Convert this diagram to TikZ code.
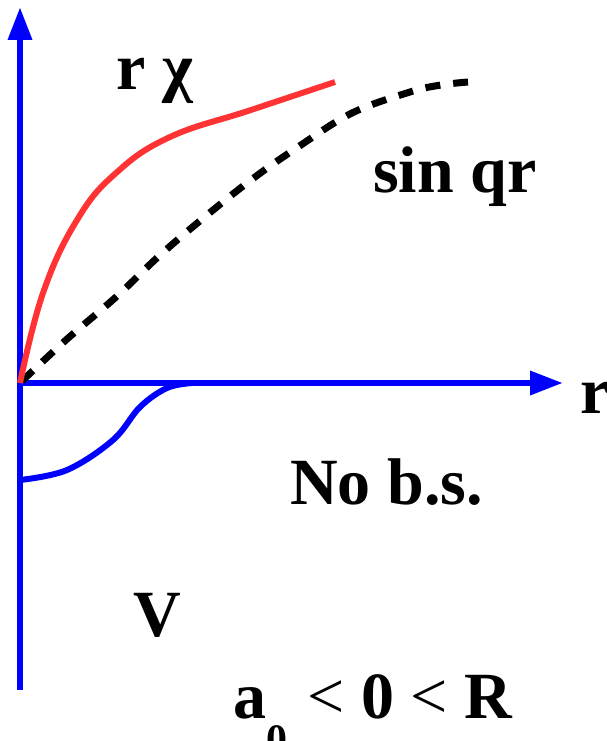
\documentclass[tikz,border=0pt]{standalone}
\usepackage{fontspec}
\setmainfont{Liberation Serif}
\usepackage{tikz}
\usetikzlibrary{arrows.meta}

\begin{document}
\begin{tikzpicture}[
  x=1pt, y=-1pt,
  every node/.style={font=\fontsize{66}{70}\selectfont\bfseries, inner sep=0pt},
  axis/.style={draw=blue, line width=6.5pt},
  axisarrow/.style={axis, -{Triangle[length=33pt, width=23pt]}},
  wave/.style={draw={rgb,255:red,255;green,51;blue,51}, line width=6pt},
  freewave/.style={draw=black, line width=7pt, dash pattern=on 15pt off 13pt},
  potential/.style={draw=blue, line width=6pt},
  lbl/.style={anchor=base west},
]
\useasboundingbox (0,0) rectangle (606,741);

% Axes
\coordinate (O) at (20,383);
\coordinate (ytop) at (20,7);
\coordinate (ybot) at (20,690);
\coordinate (xend) at (563,383);
\draw[axisarrow] (ybot) -- (ytop);
\draw[axisarrow] (O) -- (xend);

% Free solution sin qr
\draw[freewave] plot[smooth, tension=0.6] coordinates {
  (22,381) (66,340) (116,297) (158,257) (201,220) (251,180)
  (298,147) (352,113) (410,92) (441,85) (468,82)};

% Scattering solution r chi
\draw[wave] plot[smooth, tension=0.7] coordinates {
  (20,383) (43,293) (77,220) (116,173) (170,137) (251,110) (335,82)};

% Attractive potential V
\draw[potential] plot[smooth, tension=0.6] coordinates {
  (20,480) (67,470) (113,440) (140,407) (167,388) (192,383)};

% Labels
\node[lbl] (rchi) at (116,90) {r χ};
\node[lbl] (sinqr) at (373,192) {sin qr};
\node[lbl] (rlabel) at (580,413) {r};
\node[lbl] (nobs) at (290,504) {No b.s.};
\node[lbl] (vlabel) at (133,636) {V};
\node[lbl] (cond) at (233,718)
  {a\raisebox{-35pt}{\fontsize{42}{42}\selectfont 0}\hspace{4pt} {\mdseries<} 0 {\mdseries<} R};

\end{tikzpicture}
\end{document}
